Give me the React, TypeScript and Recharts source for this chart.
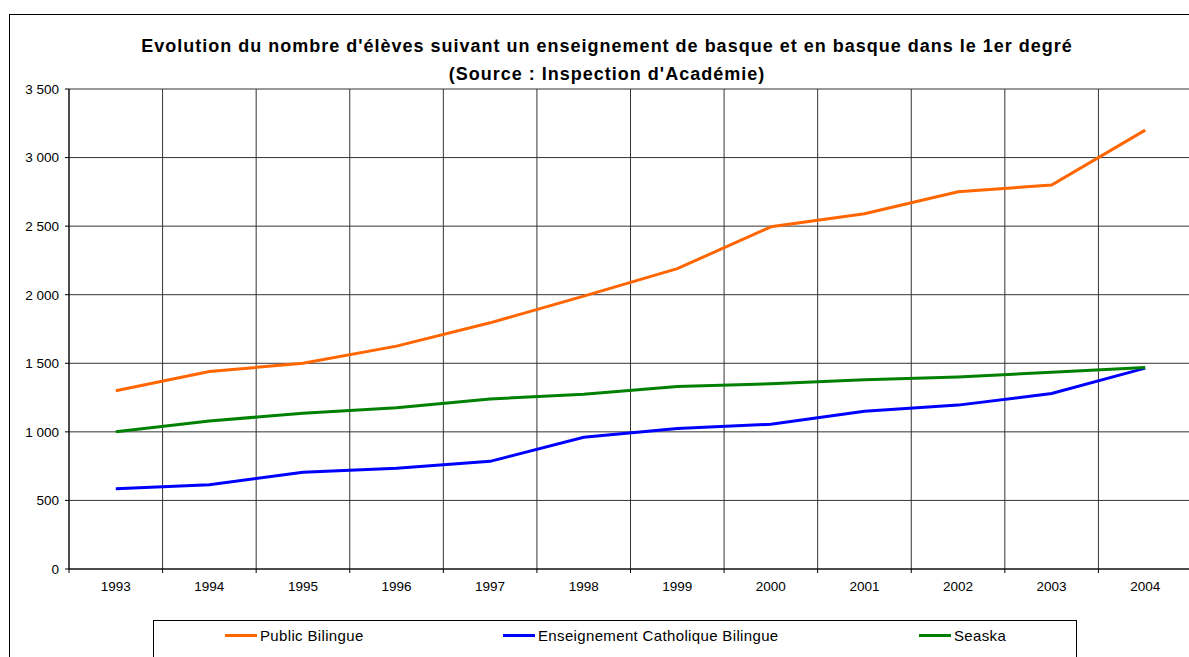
import { LineChart, Line, XAxis, YAxis, CartesianGrid } from 'recharts';

const years = ['1993', '1994', '1995', '1996', '1997', '1998', '1999', '2000', '2001', '2002', '2003', '2004'];
const publicBilingue = [1300, 1440, 1500, 1625, 1795, 1990, 2190, 2495, 2590, 2750, 2800, 3200];
const catholiqueBilingue = [585, 615, 705, 735, 785, 960, 1025, 1055, 1150, 1195, 1280, 1465];
const seaska = [1000, 1080, 1135, 1175, 1240, 1275, 1330, 1350, 1380, 1400, 1435, 1470];
const yTicks = [0, 500, 1000, 1500, 2000, 2500, 3000, 3500];

const series = [
  { key: 'pub', name: 'Public Bilingue', color: '#FF6600', values: publicBilingue },
  { key: 'cat', name: 'Enseignement Catholique Bilingue', color: '#0000FF', values: catholiqueBilingue },
  { key: 'sea', name: 'Seaska', color: '#008000', values: seaska },
];

const data = years.map((year, i) => {
  const row: any = { year };
  series.forEach((s) => { row[s.key] = s.values[i]; });
  return row;
});

const FONT = '"Liberation Sans", Arial, sans-serif';
const fmt = (v: number) => String(v).replace(/\B(?=(\d{3})+(?!\d))/g, ' ');

// legend item positions, as in the original
const legendPos = [225, 503, 919];

// vertical grid on the band edges, not the band centres
const bandEdges = ({ xAxis, offset }: any) => {
  const s = xAxis?.scale;
  try {
    const call = typeof s === 'function' ? s : typeof s?.map === 'function' ? (v: any) => s.map(v) : null;
    if (call && typeof s.bandwidth === 'function' && typeof s.domain === 'function') {
      const dom = s.domain();
      const edges = dom.map((d: any) => call(d));
      edges.push(call(dom[dom.length - 1]) + s.bandwidth());
      if (edges.every((e: any) => Number.isFinite(e))) return edges;
    }
  } catch (e) {
    // fall through
  }
  const n = years.length;
  return [...years.map((_, i) => offset.left + (i * offset.width) / n), offset.left + offset.width];
};

// year label plus a small tick mark on the left band edge
const YearTick = (props: any) => {
  const { x, y, payload } = props;
  const half = payload?.offset ?? 0;
  return (
    <g>
      <line x1={x - half} x2={x - half} y1={y - 12} y2={y - 8} stroke="#000" />
      <text x={x} y={y} dy="0.71em" textAnchor="middle" fill="#000" fontSize={13.5} fontFamily={FONT}>
        {payload.value}
      </text>
    </g>
  );
};

export default function App() {
  return (
    <div style={{ position: 'absolute', left: 0, top: 0, width: 1189, height: 657, overflow: 'hidden', background: '#fff', fontFamily: FONT }}>
      <div style={{ position: 'absolute', left: 9, top: 14, width: 1300, height: 700, border: '1px solid #000' }} />
      <div style={{ position: 'absolute', left: 0, top: 32, width: 1214, textAlign: 'center', fontWeight: 'bold', fontSize: 18, letterSpacing: 1, lineHeight: '28px', color: '#000' }}>
        Evolution du nombre d'élèves suivant un enseignement de basque et en basque dans le 1er degré
        <br />
        (Source : Inspection d'Académie)
      </div>
      <div style={{ position: 'absolute', left: 0, top: 0 }}>
        <LineChart width={1200} height={657} data={data} margin={{ top: 89, right: 8, bottom: 58, left: 9 }}>
          <CartesianGrid stroke="#333" strokeWidth={1} verticalCoordinatesGenerator={bandEdges} />
          <XAxis
            dataKey="year"
            scale="band"
            height={30}
            interval={0}
            axisLine={{ stroke: '#000' }}
            tickLine={false}
            tickSize={6}
            tickMargin={6}
            tick={<YearTick />}
          />
          <YAxis
            width={60}
            domain={[0, 3500]}
            ticks={yTicks}
            interval={0}
            tickFormatter={fmt}
            tickSize={4}
            tickMargin={6}
            axisLine={{ stroke: '#000' }}
            tickLine={{ stroke: '#000' }}
            tick={{ fill: '#000', fontSize: 13.5, fontFamily: FONT }}
          />
          {series.map((s) => (
            <Line key={s.key} dataKey={s.key} name={s.name} type="linear" stroke={s.color} strokeWidth={3} dot={false} isAnimationActive={false} />
          ))}
        </LineChart>
      </div>
      <div style={{ position: 'absolute', left: 153, top: 620, width: 922, height: 100, border: '1px solid #000' }}>
        {series.map((s, i) => (
          <div key={s.key} style={{ position: 'absolute', left: legendPos[i] - 154, top: 6, display: 'flex', alignItems: 'center', fontSize: 15, letterSpacing: 0.35, color: '#000' }}>
            <span style={{ display: 'inline-block', width: 32, height: 3, background: s.color, marginRight: 3 }} />
            {s.name}
          </div>
        ))}
      </div>
    </div>
  );
}
